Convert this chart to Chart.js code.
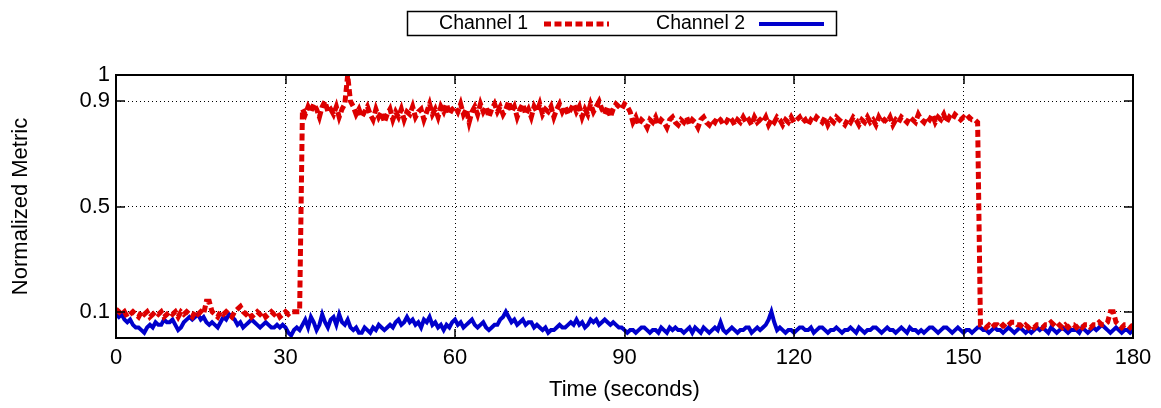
<!DOCTYPE html>
<html>
<head>
<meta charset="utf-8">
<script src="https://cdn.jsdelivr.net/npm/chart.js@4.4.1/dist/chart.umd.min.js"></script>
<style>
html,body{margin:0;padding:0;background:#fff;}
canvas{display:block;}
</style>
</head>
<body>
<canvas id="c" width="1161" height="408"></canvas>
<script>
// ---- Data ----
const seriesNames = ["Channel 1", "Channel 2"];
const xTicks = [0, 30, 60, 90, 120, 150, 180];
const yTicks = [0.1, 0.5, 0.9, 1];

// Channel 1: one sample per half second, t = 0..180
const ch1Start = 0, ch1Step = 0.5;
const ch1Values = [
  0.11,0.10,0.09,0.10,0.08,0.09,0.10,0.09,0.08,0.10,0.09,0.10,0.08,0.09,0.10,0.09,0.10,0.08,0.09,0.10,
  0.09,0.10,0.08,0.10,0.09,0.10,0.09,0.08,0.10,0.09,0.10,0.09,0.14,0.14,0.10,0.09,0.08,0.10,0.09,0.10,
  0.09,0.08,0.10,0.11,0.12,0.10,0.09,0.10,0.08,0.09,0.10,0.09,0.10,0.08,0.09,0.10,0.09,0.10,0.08,0.09,
  0.10,0.09,0.10,0.10,0.10,0.10,0.87,0.85,0.88,0.86,0.89,0.87,0.84,0.88,0.90,0.86,0.87,0.85,0.88,0.84,
  0.87,0.89,1.00,0.90,0.88,0.85,0.87,0.84,0.86,0.88,0.85,0.83,0.87,0.84,0.86,0.82,0.85,0.87,0.83,0.86,
  0.84,0.87,0.83,0.86,0.85,0.88,0.84,0.86,0.87,0.83,0.86,0.89,0.85,0.87,0.84,0.88,0.86,0.89,0.85,0.87,
  0.88,0.86,0.89,0.85,0.87,0.82,0.86,0.88,0.85,0.89,0.86,0.88,0.84,0.87,0.89,0.86,0.88,0.85,0.87,0.90,
  0.86,0.88,0.84,0.87,0.89,0.85,0.87,0.84,0.88,0.86,0.89,0.85,0.87,0.86,0.88,0.84,0.87,0.89,0.86,0.88,
  0.85,0.87,0.89,0.86,0.88,0.84,0.87,0.85,0.89,0.86,0.88,0.90,0.87,0.85,0.88,0.84,0.87,0.89,0.88,0.87,
  0.89,0.88,0.86,0.82,0.84,0.81,0.83,0.82,0.80,0.83,0.82,0.84,0.81,0.83,0.82,0.80,0.83,0.84,0.82,0.81,
  0.83,0.82,0.84,0.81,0.83,0.82,0.80,0.83,0.84,0.82,0.81,0.83,0.82,0.84,0.83,0.81,0.82,0.84,0.83,0.81,
  0.83,0.82,0.84,0.82,0.83,0.81,0.84,0.82,0.83,0.82,0.84,0.81,0.83,0.82,0.84,0.83,0.81,0.83,0.82,0.84,
  0.82,0.83,0.84,0.82,0.83,0.81,0.83,0.82,0.84,0.83,0.82,0.84,0.81,0.83,0.82,0.84,0.83,0.82,0.81,0.83,
  0.82,0.84,0.83,0.81,0.83,0.82,0.84,0.82,0.83,0.81,0.84,0.82,0.83,0.82,0.84,0.81,0.83,0.82,0.84,0.83,
  0.82,0.84,0.83,0.82,0.85,0.83,0.82,0.84,0.83,0.85,0.82,0.84,0.83,0.85,0.82,0.84,0.83,0.85,0.84,0.83,
  0.84,0.83,0.84,0.83,0.83,0.82,0.05,0.05,0.04,0.05,0.04,0.05,0.05,0.04,0.05,0.04,0.05,0.06,0.06,0.05,
  0.05,0.04,0.05,0.04,0.05,0.04,0.05,0.05,0.04,0.05,0.05,0.06,0.05,0.04,0.05,0.04,0.05,0.04,0.05,0.05,
  0.04,0.05,0.04,0.05,0.05,0.04,0.05,0.05,0.06,0.05,0.05,0.06,0.10,0.10,0.06,0.05,0.04,0.05,0.05,0.04,
  0.05
];

// Channel 2: one sample per half second, t = 0..180
const ch2Start = 0, ch2Step = 0.5;
const ch2Values = [
  0.09,0.08,0.09,0.07,0.06,0.07,0.05,0.04,0.04,0.03,0.02,0.04,0.05,0.04,0.06,0.05,0.05,0.07,0.06,0.06,
  0.07,0.05,0.03,0.04,0.06,0.07,0.08,0.07,0.08,0.09,0.07,0.08,0.06,0.05,0.06,0.05,0.04,0.06,0.08,0.07,
  0.09,0.08,0.07,0.05,0.06,0.04,0.05,0.06,0.07,0.06,0.05,0.04,0.05,0.06,0.05,0.04,0.04,0.05,0.04,0.05,
  0.04,0.02,0.01,0.03,0.04,0.03,0.05,0.07,0.04,0.08,0.06,0.03,0.05,0.09,0.06,0.04,0.07,0.08,0.05,0.09,
  0.06,0.05,0.07,0.04,0.03,0.04,0.02,0.02,0.04,0.03,0.02,0.04,0.03,0.05,0.04,0.03,0.04,0.05,0.04,0.06,
  0.07,0.05,0.06,0.08,0.06,0.07,0.05,0.06,0.04,0.07,0.06,0.08,0.05,0.06,0.04,0.05,0.03,0.05,0.04,0.06,
  0.07,0.05,0.06,0.04,0.05,0.06,0.07,0.05,0.04,0.05,0.06,0.04,0.03,0.04,0.05,0.05,0.07,0.08,0.10,0.08,
  0.06,0.07,0.05,0.06,0.07,0.05,0.06,0.06,0.04,0.05,0.04,0.03,0.04,0.02,0.03,0.03,0.04,0.05,0.04,0.04,
  0.05,0.06,0.05,0.07,0.05,0.06,0.04,0.05,0.07,0.06,0.07,0.05,0.06,0.07,0.06,0.05,0.06,0.05,0.04,0.04,
  0.03,0.02,0.03,0.03,0.02,0.03,0.04,0.04,0.03,0.02,0.03,0.03,0.02,0.04,0.03,0.02,0.04,0.03,0.04,0.03,
  0.03,0.02,0.03,0.04,0.02,0.04,0.03,0.02,0.04,0.03,0.02,0.03,0.04,0.03,0.06,0.03,0.02,0.03,0.04,0.03,
  0.02,0.03,0.03,0.04,0.04,0.02,0.03,0.04,0.03,0.04,0.05,0.07,0.10,0.06,0.03,0.04,0.03,0.02,0.03,0.03,
  0.02,0.03,0.04,0.04,0.03,0.03,0.04,0.02,0.03,0.04,0.04,0.03,0.02,0.03,0.03,0.04,0.03,0.02,0.03,0.03,
  0.04,0.03,0.02,0.04,0.03,0.02,0.03,0.03,0.04,0.04,0.03,0.02,0.03,0.04,0.03,0.03,0.02,0.03,0.04,0.03,
  0.02,0.04,0.03,0.03,0.02,0.03,0.02,0.03,0.04,0.04,0.03,0.02,0.03,0.04,0.04,0.03,0.02,0.03,0.04,0.03,
  0.02,0.03,0.03,0.02,0.03,0.04,0.04,0.03,0.03,0.02,0.03,0.04,0.03,0.03,0.02,0.03,0.04,0.03,0.02,0.03,
  0.04,0.03,0.02,0.03,0.02,0.03,0.04,0.03,0.04,0.03,0.02,0.04,0.03,0.02,0.03,0.04,0.03,0.02,0.03,0.03,
  0.03,0.02,0.04,0.03,0.02,0.03,0.04,0.03,0.04,0.05,0.04,0.03,0.02,0.03,0.04,0.03,0.02,0.03,0.03,0.02,
  0.03
];

const xTitle = "Time (seconds)";
const yTitle = "Normalized Metric";

// ---- Styles ----
const RED = "rgb(221,0,0)";
const BLUE = "rgb(0,0,204)";
const FONT = "'Liberation Sans', Arial, Helvetica, sans-serif";
const redDash = [7, 3.5];

const ch1Points = ch1Values.map((v, i) => ({x: ch1Start + i * ch1Step, y: v}));
const ch2Points = ch2Values.map((v, i) => ({x: ch2Start + i * ch2Step, y: v}));

const framePlugin = {
  id: 'gnuplotFrame',
  afterDatasetsDraw(chart) {
    const {ctx, chartArea: {left, right, top, bottom}, scales: {x, y}} = chart;
    ctx.save();
    ctx.setLineDash([]);
    ctx.strokeStyle = '#000';
    ctx.lineWidth = 1.5;
    const L = 9;
    ctx.beginPath();
    xTicks.forEach(t => {
      const px = Math.round(x.getPixelForValue(t));
      ctx.moveTo(px, bottom); ctx.lineTo(px, bottom - L);
      ctx.moveTo(px, top); ctx.lineTo(px, top + L);
    });
    yTicks.forEach(t => {
      const py = Math.round(y.getPixelForValue(t));
      ctx.moveTo(left, py); ctx.lineTo(left + L, py);
      ctx.moveTo(right, py); ctx.lineTo(right - L, py);
    });
    ctx.stroke();
    ctx.lineWidth = 2;
    ctx.strokeRect(left, top, right - left, bottom - top);
    ctx.restore();
  },
  afterDraw(chart) {
    const ctx = chart.ctx;
    ctx.save();
    ctx.strokeStyle = '#000';
    ctx.lineWidth = 1.5;
    ctx.setLineDash([]);
    ctx.strokeRect(407.5, 11.5, 429, 24);
    ctx.font = "19.5px " + FONT;
    ctx.fillStyle = '#000';
    ctx.textAlign = 'right';
    ctx.textBaseline = 'middle';
    const cy = 24;
    ctx.fillText(seriesNames[0], 528, cy);
    ctx.fillText(seriesNames[1], 745, cy);
    ctx.lineWidth = 5;
    ctx.strokeStyle = RED;
    ctx.setLineDash(redDash);
    ctx.beginPath(); ctx.moveTo(544, cy); ctx.lineTo(609, cy); ctx.stroke();
    ctx.setLineDash([]);
    ctx.lineWidth = 4;
    ctx.strokeStyle = BLUE;
    ctx.beginPath(); ctx.moveTo(759, cy); ctx.lineTo(824, cy); ctx.stroke();
    ctx.restore();
  }
};

new Chart(document.getElementById('c'), {
  type: 'line',
  data: {
    datasets: [
      {label: seriesNames[0], data: ch1Points, borderColor: RED, borderWidth: 5,
       borderDash: redDash, pointRadius: 0, tension: 0, fill: false},
      {label: seriesNames[1], data: ch2Points, borderColor: BLUE, borderWidth: 4,
       pointRadius: 0, tension: 0, fill: false}
    ]
  },
  options: {
    responsive: false,
    animation: false,
    devicePixelRatio: 1,
    layout: {padding: {top: 75, right: 28, left: 0, bottom: 0}},
    plugins: {legend: {display: false}, tooltip: {enabled: false}},
    scales: {
      x: {
        type: 'linear', min: 0, max: 180,
        afterBuildTicks: s => { s.ticks = xTicks.map(v => ({value: v})); },
        afterFit: s => { s.height = 70; },
        grid: {color: '#000', lineWidth: 1, drawTicks: false, tickLength: 0},
        border: {display: false, dash: [1, 3]},
        ticks: {color: '#000', font: {family: FONT, size: 22}, padding: 7, maxRotation: 0,
                callback: v => String(v)},
        title: {display: true, text: xTitle, color: '#000', font: {family: FONT, size: 22},
                padding: {top: 0, bottom: 5}}
      },
      y: {
        type: 'linear', min: 0, max: 1,
        afterBuildTicks: s => { s.ticks = yTicks.map(v => ({value: v})); },
        afterFit: s => { s.width = 116; },
        grid: {color: '#000', lineWidth: 1, drawTicks: false, tickLength: 0},
        border: {display: false, dash: [1, 3]},
        ticks: {color: '#000', font: {family: FONT, size: 22}, padding: 6,
                callback: v => String(v)},
        title: {display: true, text: yTitle, color: '#000', font: {family: FONT, size: 22},
                padding: {top: 8, bottom: 0}}
      }
    }
  },
  plugins: [framePlugin]
});
</script>
</body>
</html>
